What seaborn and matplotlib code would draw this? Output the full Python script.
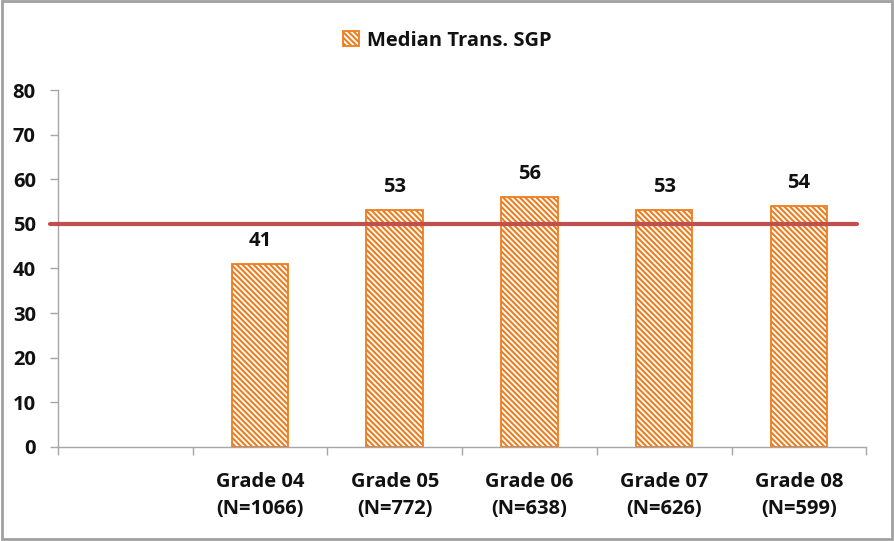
import matplotlib.pyplot as plt
import numpy as np
import pandas as pd
import seaborn as sns

# Werte aus dem Diagramm
grades = ['', 'Grade 04\n(N=1066)', 'Grade 05\n(N=772)', 'Grade 06\n(N=638)',
          'Grade 07\n(N=626)', 'Grade 08\n(N=599)']
median_sgp = [np.nan, 41, 53, 56, 53, 54]
reference_line = 50

data = pd.DataFrame({'Grade': grades, 'SGP': median_sgp})

orange = '#EE7D1E'
red = '#C0504D'

sns.set_style('white')
plt.rcParams['font.family'] = ['Open Sans', 'DejaVu Sans']
plt.rcParams['font.weight'] = 'bold'
plt.rcParams['text.color'] = '#111111'
plt.rcParams['hatch.color'] = orange
plt.rcParams['hatch.linewidth'] = 1.5

fs = 14.5

fig = plt.figure(figsize=(8.94, 5.41), dpi=100)
ax = fig.add_axes([0.0649, 0.1738, 0.904, 0.6598])

sns.barplot(x='Grade', y='SGP', data=data, ax=ax, width=0.42,
            color='white', edgecolor=orange, linewidth=1.3)
for p in ax.patches:
    p.set_hatch('\\\\\\\\\\\\')

# Referenzlinie bei 50
ax.plot([-0.01, 0.989], [reference_line, reference_line], color=red, linewidth=3,
        zorder=5, transform=ax.get_yaxis_transform(), clip_on=False)

# Datenbeschriftungen
for i, v in enumerate(median_sgp):
    if not np.isnan(v):
        ax.text(i, v + 3.0, f'{v:.0f}', ha='center', va='bottom',
                fontsize=fs, fontweight='bold')

ax.set_xlim(-0.5, len(grades) - 0.5)
ax.set_ylim(0, 80)
ax.set_yticks(range(0, 81, 10))
ax.set_xlabel('')
ax.set_ylabel('')

# Achsen im Excel-Stil
for side in ['top', 'right']:
    ax.spines[side].set_visible(False)
for side in ['left', 'bottom']:
    ax.spines[side].set_color('#A6A6A6')
    ax.spines[side].set_linewidth(1)

ax.set_xticks(np.arange(-0.5, len(grades)), minor=True)
ax.tick_params(axis='x', which='major', bottom=False, length=0, pad=18, labelsize=fs,
               labelcolor='#111111')
ax.tick_params(axis='x', which='minor', bottom=True, length=6, width=1,
               color='#A6A6A6', direction='out')
ax.tick_params(axis='y', which='major', left=True, length=6, width=1, color='#A6A6A6',
               direction='out', labelsize=fs, pad=10, labelcolor='#111111')
for lbl in ax.get_xticklabels() + ax.get_yticklabels():
    lbl.set_fontweight('bold')
for lbl in ax.get_xticklabels():
    lbl.set_linespacing(1.45)

fig.legend(handles=ax.patches[1:2], labels=['Median Trans. SGP'],
           loc='center', bbox_to_anchor=(0.5, 0.925), frameon=False,
           fontsize=fs, handlelength=0.8, handleheight=0.8,
           handletextpad=0.4)

# Rahmen um die Grafik
fig.patches.append(plt.Rectangle((0.002, 0.004), 0.996, 0.994, transform=fig.transFigure,
                                 fill=False, edgecolor='#A0A0A0', linewidth=2))

fig.savefig('out.png', dpi=100)
